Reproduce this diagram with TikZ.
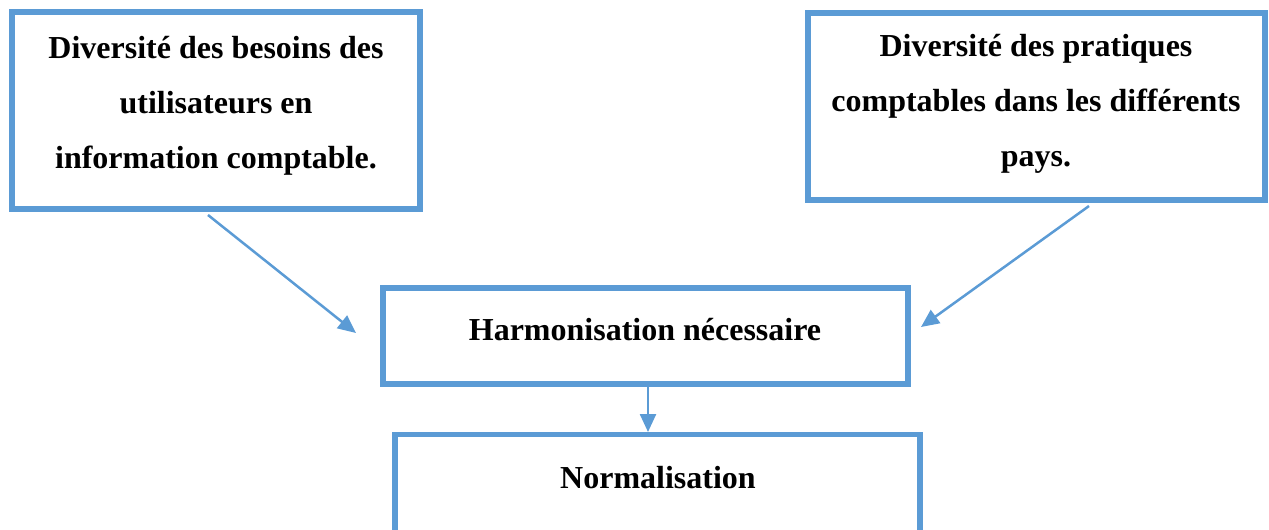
\documentclass[tikz,border=0pt]{standalone}
\usepackage{fontspec}
\setmainfont{Liberation Serif}
\usetikzlibrary{arrows.meta}
\definecolor{boxblue}{HTML}{5B9BD5}
\begin{document}
\begin{tikzpicture}[x=1pt,y=-1pt,
  box/.style={draw=boxblue, line width=6pt, rectangle, inner sep=0pt},
  lowbox/.style={box, line width=5.5pt},
  label/.style={font=\bfseries\fontsize{32}{55}\selectfont, align=center, inner sep=0pt, anchor=base},
  flow/.style={draw=boxblue, line width=2.5pt, -{Triangle[length=18pt,width=16pt]}}]
  \useasboundingbox (0,0) rectangle (1269,530);
  \clip (0,0) rectangle (1269,530);

  % boxes
  \node[box, minimum width=408pt, minimum height=197pt] (needs) at (216,110.5) {};
  \node[box, minimum width=456.5pt, minimum height=187pt] (practices) at (1036.25,106.5) {};
  \node[lowbox, minimum width=525pt, minimum height=96pt] (harmo) at (645.5,336) {};
  \node[lowbox, minimum width=525pt, minimum height=160pt] (norm) at (657.5,514.5) {};

  % texts (base anchor sits on the last line)
  \node[label] (needstext) at (216,168) {Diversité des besoins des\\utilisateurs en\\information comptable.};
  \node[label] (practicestext) at (1036,166) {Diversité des pratiques\\comptables dans les différents\\pays.};
  \node[label] (harmotext) at (645,340) {Harmonisation nécessaire};
  \node[label] (normtext) at (658,488) {Normalisation};

  % connector ends
  \coordinate (a1s) at (208,215);
  \coordinate (a1e) at (356,333);
  \coordinate (a2s) at (1089,206);
  \coordinate (a2e) at (921,327);
  \coordinate (a3s) at (648,387);
  \coordinate (a3e) at (648,432);

  \draw[flow] (a1s) -- (a1e);
  \draw[flow] (a2s) -- (a2e);
  \draw[flow] (a3s) -- (a3e);
\end{tikzpicture}
\end{document}
